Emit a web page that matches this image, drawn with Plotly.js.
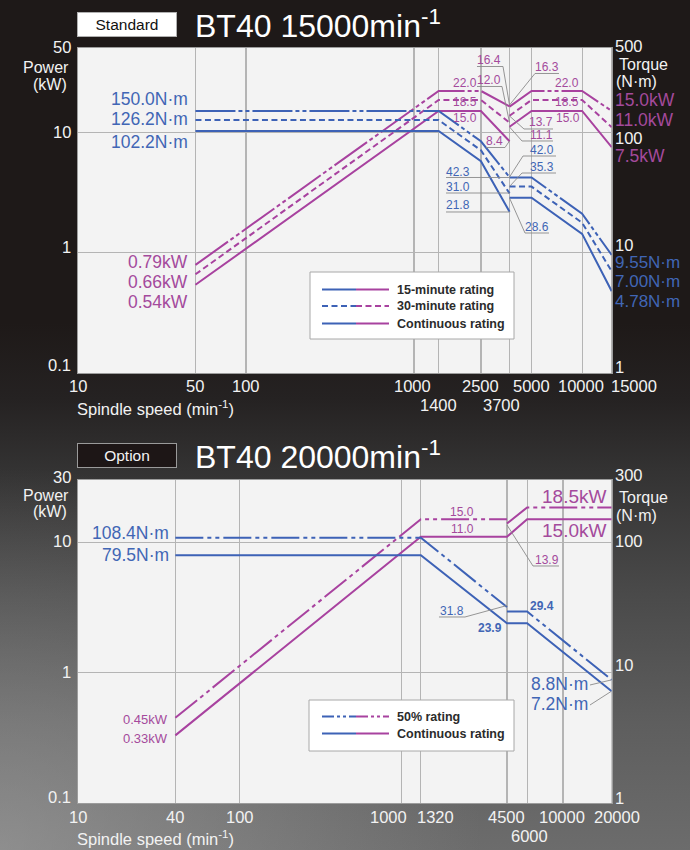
<!DOCTYPE html>
<html><head><meta charset="utf-8">
<script src="https://cdn.plot.ly/plotly-3.0.1.min.js"></script>
<style>
html,body{margin:0;padding:0;}
body{width:690px;height:850px;overflow:hidden;
background:
 radial-gradient(ellipse 70% 45% at 0% 100%, rgba(170,170,170,0.55), rgba(170,170,170,0) 100%),
 linear-gradient(to bottom, #1e1918 0%, #1e1918 38%, #252222 47%, #333232 55%, #4a4a4a 70%, #5e5e5e 85%, #6c6c6c 100%);}
#chart{width:690px;height:850px;}
</style></head><body><div id="chart"></div>
<script>
// ---------- DATA: Standard BT40 15000 min-1 ----------
const speedStd   = [50, 1400, 2500, 3700, null, 3700, 5000, 10000, 15000];
const power15    = [0.79, 22.0, 22.0, 16.4, null, 16.3, 22.0, 22.0, 15.0];
const power30    = [0.66, 18.5, 18.5, 12.0, null, 13.7, 18.5, 18.5, 11.0];
const powerCont  = [0.54, 15.0, 15.0, 8.4, null, 11.1, 15.0, 15.0, 7.5];
const torque15   = [150.0, 150.0, 84.0, 42.3, null, 42.0, 42.0, 21.0, 9.55];
const torque30   = [126.2, 126.2, 70.7, 31.0, null, 35.3, 35.3, 17.7, 7.00];
const torqueCont = [102.2, 102.2, 57.3, 21.8, null, 28.6, 28.6, 14.3, 4.78];

// ---------- DATA: Option BT40 20000 min-1 ----------
const speedOpt50    = [40, 1320, 4500, null, 4500, 6000, 20000];
const power50       = [0.45, 15.0, 15.0, null, 13.9, 18.5, 18.5];
const torque50      = [108.4, 108.4, 31.8, null, 29.4, 29.4, 8.8];
const speedOptCont  = [40, 1320, 4500, 6000, 20000];
const powerOptCont  = [0.33, 11.0, 11.0, 15.0, 15.0];
const torqueOptCont = [79.5, 79.5, 23.9, 23.9, 7.2];

// ---------- TICKS ----------
const stdXTicks  = [10, 50, 100, 1000, 2500, 5000, 10000, 15000];
const stdXTicks2 = [1400, 3700];
const stdGridX   = [50, 100, 1000, 1400, 2500, 3700, 5000, 10000];
const optXTicks  = [10, 40, 100, 1000, 1320, 4500, 10000, 20000];
const optXTicks2 = [6000];
const optGridX   = [40, 100, 1000, 1320, 4500, 6000, 10000];
const stdPowerTicks  = [0.1, 1, 10, 50];
const stdTorqueTicks = [1, 10, 100, 500];
const optPowerTicks  = [0.1, 1, 10, 30];
const optTorqueTicks = [1, 10, 100, 300];
const stdLegend = ['15-minute rating', '30-minute rating', 'Continuous rating'];
const optLegend = ['50% rating', 'Continuous rating'];

// ---------- STYLE ----------
const W = 690, H = 850;
const BLUE = '#3d62b6', MAG = '#a8429f', BLUET = '#4166b5', MAGT = '#a44a9c';
const WHITE = '#f2f2f2';
const FONT = 'Liberation Sans, Arial, Helvetica, sans-serif';
const DD1 = '40px,3px,4px,3px,4px,3px';
const DD2 = '28px,4px,4px,4px,4px,4px';
const DASH = '6px,3.5px';
const px = (x) => x / W, py = (y) => 1 - y / H;

function tr(x, y, xa, ya, color, dash) {
  return {x, y, xaxis: xa, yaxis: ya, mode: 'lines', connectgaps: false, hoverinfo: 'skip',
          line: {color, width: 2, dash}, showlegend: false};
}
const data = [
  tr(speedStd, torque15, 'x', 'y2', BLUE, DD1),
  tr(speedStd, torque30, 'x', 'y2', BLUE, DASH),
  tr(speedStd, torqueCont, 'x', 'y2', BLUE, 'solid'),
  tr(speedStd, power15, 'x', 'y', MAG, DD1),
  tr(speedStd, power30, 'x', 'y', MAG, DASH),
  tr(speedStd, powerCont, 'x', 'y', MAG, 'solid'),
  tr(speedOpt50, torque50, 'x2', 'y4', BLUE, DD2),
  tr(speedOptCont, torqueOptCont, 'x2', 'y4', BLUE, 'solid'),
  tr(speedOpt50, power50, 'x2', 'y3', MAG, DD2),
  tr(speedOptCont, powerOptCont, 'x2', 'y3', MAG, 'solid')
];

const ann = [];
function T(text, x, y, o) {
  o = o || {};
  ann.push({text, xref: 'paper', yref: 'paper', x: px(x), y: py(y), showarrow: false, borderpad: 0,
    xanchor: o.xa || 'center', yanchor: 'middle',
    font: {family: FONT, size: o.size || 12, color: o.color || WHITE, weight: o.weight || 400}});
}
// tick labels bound to axis scales
function tickX(axis, v, yPix, shift) {
  ann.push({text: String(v), xref: axis, x: Math.log10(v), yref: 'paper', y: py(yPix), xshift: shift || 0,
    showarrow: false, borderpad: 0, xanchor: 'center', yanchor: 'middle', font: {family: FONT, size: 16.5, color: WHITE}});
}
function tickY(axis, v, xPix, xa, shift) {
  ann.push({text: String(v), yref: axis, y: Math.log10(v), xref: 'paper', x: px(xPix), yshift: shift || 0,
    showarrow: false, borderpad: 0, xanchor: xa, yanchor: 'middle', font: {family: FONT, size: 16.5, color: WHITE}});
}
const stdXShift = {10: 0, 50: 0, 100: 0, 1000: -2, 2500: 0, 5000: 0, 10000: -1, 15000: 22};
stdXTicks.forEach(v => tickX('x', v, 386, stdXShift[v]));
const stdX2Shift = {1400: 0, 3700: -8};
stdXTicks2.forEach(v => tickX('x', v, 405, stdX2Shift[v]));
const optXShift = {10: 0, 40: 0, 100: 0, 1000: -13, 1320: 15, 4500: 0, 10000: -1, 20000: 5};
optXTicks.forEach(v => tickX('x2', v, 817, optXShift[v]));
optXTicks2.forEach(v => tickX('x2', v, 836, 2));
const stdPShift = {0.1: 8, 1: 6, 10: 0, 50: 1};
stdPowerTicks.forEach(v => tickY('y', v, 72, 'right', stdPShift[v]));
const stdTShift = {1: 6, 10: 8, 100: -6, 500: 2};
stdTorqueTicks.forEach(v => tickY('y2', v, 614, 'left', stdTShift[v]));
const optPShift = {0.1: 6, 1: 1, 10: 1, 30: 3};
optPowerTicks.forEach(v => tickY('y3', v, 72, 'right', optPShift[v]));
const optTShift = {1: 5, 10: 8, 100: 1, 300: 5};
optTorqueTicks.forEach(v => tickY('y4', v, 614, 'left', optTShift[v]));

// axis titles
T('Power', 70, 67, {xa: 'right', size: 16});
T('(kW)', 68, 84, {xa: 'right', size: 16});
T('Torque', 618, 64, {xa: 'left', size: 16});
T('(N·m)', 615, 81, {xa: 'left', size: 16});
T('Spindle speed (min<sup>-1</sup>)', 76, 408, {xa: 'left', size: 16.5});
T('Power', 70, 495, {xa: 'right', size: 16});
T('(kW)', 68, 512, {xa: 'right', size: 16});
T('Torque', 618, 497, {xa: 'left', size: 16});
T('(N·m)', 615, 515, {xa: 'left', size: 16});
T('Spindle speed (min<sup>-1</sup>)', 76, 838, {xa: 'left', size: 16.5});

// headers
ann.push({text: 'Standard', xref: 'paper', yref: 'paper', x: px(77), y: py(12), xanchor: 'left', yanchor: 'top',
  showarrow: false, width: 96, height: 21, bgcolor: '#ffffff', bordercolor: '#b0b0b0', borderwidth: 1,
  font: {family: FONT, size: 15.5, color: '#111'}});
T('BT40 15000min<sup>-1</sup>', 194, 24, {xa: 'left', size: 32, color: '#ffffff'});
ann.push({text: 'Option', xref: 'paper', yref: 'paper', x: px(77), y: py(443), xanchor: 'left', yanchor: 'top',
  showarrow: false, width: 96, height: 21, bgcolor: '#1d1616', bordercolor: '#9a9a9a', borderwidth: 1,
  font: {family: FONT, size: 15.5, color: '#f4f4f4'}});
T('BT40 20000min<sup>-1</sup>', 194, 455, {xa: 'left', size: 32, color: '#ffffff'});

// ---- value labels: standard ----
const BIG = 17.5;
T(torque15[0].toFixed(1) + 'N·m', 189, 99, {xa: 'right', size: BIG, color: BLUET});
T(torque30[0].toFixed(1) + 'N·m', 189, 119, {xa: 'right', size: BIG, color: BLUET});
T(torqueCont[0].toFixed(1) + 'N·m', 189, 142, {xa: 'right', size: BIG, color: BLUET});
T(power15[0].toFixed(2) + 'kW', 189, 262, {xa: 'right', size: BIG, color: MAGT});
T(power30[0].toFixed(2) + 'kW', 189, 282, {xa: 'right', size: BIG, color: MAGT});
T(powerCont[0].toFixed(2) + 'kW', 189, 302, {xa: 'right', size: BIG, color: MAGT});
T(power15[8].toFixed(1) + 'kW', 614, 100, {xa: 'left', size: BIG, color: MAGT});
T(power30[8].toFixed(1) + 'kW', 614, 120, {xa: 'left', size: BIG, color: MAGT});
T(powerCont[8].toFixed(1) + 'kW', 614, 156, {xa: 'left', size: BIG, color: MAGT});
T(torque15[8].toFixed(2) + 'N·m', 614, 262, {xa: 'left', size: 17, color: BLUET});
T(torque30[8].toFixed(2) + 'N·m', 614, 281.5, {xa: 'left', size: 17, color: BLUET});
T(torqueCont[8].toFixed(2) + 'N·m', 614, 301, {xa: 'left', size: 17, color: BLUET});

const SM = 12;
T('22.0', 465, 83, {size: SM, color: MAGT});
T('18.5', 465, 102, {size: SM, color: MAGT});
T('15.0', 465, 118, {size: SM, color: MAGT});
T('16.4', 489, 60, {size: SM, color: MAGT});
T('12.0', 489, 80, {size: SM, color: MAGT});
T('8.4', 494, 141, {size: SM, color: MAGT});
T('16.3', 547, 67, {size: SM, color: MAGT});
T('22.0', 567, 83, {size: SM, color: MAGT});
T('18.5', 567, 102, {size: SM, color: MAGT});
T('13.7', 541, 122, {size: SM, color: MAGT});
T('15.0', 568, 118, {size: SM, color: MAGT});
T('11.1', 541, 135, {size: SM, color: MAGT});
T('42.0', 542, 150, {size: SM, color: BLUET});
T('35.3', 542, 167, {size: SM, color: BLUET});
T('42.3', 458, 172, {size: SM, color: BLUET});
T('31.0', 458, 187, {size: SM, color: BLUET});
T('21.8', 458, 205, {size: SM, color: BLUET});
T('28.6', 537, 227, {size: SM, color: BLUET});

// ---- value labels: option ----
T(torque50[0].toFixed(1) + 'N·m', 170, 533, {xa: 'right', size: BIG, color: BLUET});
T(torqueOptCont[0].toFixed(1) + 'N·m', 170, 555, {xa: 'right', size: BIG, color: BLUET});
T(power50[0].toFixed(2) + 'kW', 169, 719, {xa: 'right', size: 13, color: MAGT});
T(powerOptCont[0].toFixed(2) + 'kW', 169, 738, {xa: 'right', size: 13, color: MAGT});
T('15.0', 462, 512, {size: SM, color: MAGT});
T('11.0', 462, 529, {size: SM, color: MAGT});
T('13.9', 547, 560, {size: SM, color: MAGT});
T(power50[6].toFixed(1) + 'kW', 607, 496, {xa: 'right', size: 19, color: MAGT});
T(powerOptCont[4].toFixed(1) + 'kW', 607, 530, {xa: 'right', size: 19, color: MAGT});
T('31.8', 452, 611, {size: SM, color: BLUET});
T('29.4', 542, 606, {size: SM, color: BLUET, weight: 700});
T('23.9', 490, 628, {size: SM, color: BLUET, weight: 700});
T(torque50[6].toFixed(1) + 'N·m', 589, 684, {xa: 'right', size: 17.5, color: BLUET});
T(torqueOptCont[4].toFixed(1) + 'N·m', 589, 704, {xa: 'right', size: 17.5, color: BLUET});

// ---------- shapes: leaders, legends ----------
const shapes = [];
function path(pts, color, width, dash) {
  let d = pts.map((p, i) => (i ? 'L' : 'M') + px(p[0]).toFixed(5) + ',' + py(p[1]).toFixed(5)).join(' ');
  shapes.push({type: 'path', xref: 'paper', yref: 'paper', path: d, line: {color, width, dash: dash || 'solid'}});
}
const LC = '#8a8a8a';
[
  [[477,66.5],[503,66.5],[509.5,105]],
  [[477,86.5],[502,86.5],[509.5,122.5]],
  [[486,147.5],[505,147.5],[509.5,141]],
  [[559,73.5],[535,73.5],[509.5,105]],
  [[553,129],[524,129],[509.5,116]],
  [[553,141],[522,141],[509.5,127]],
  [[446,177.5],[509.5,177.5]],
  [[446,193],[509.5,193]],
  [[446,212],[509.5,212]],
  [[556,156],[523,156],[509.5,177]],
  [[556,173],[522,173],[509.5,186.5]],
  [[549,233],[525,233],[509.5,198]],
  [[559,566],[533,566],[507,525]],
  [[439,617],[465,617],[507,605.5]],
  [[590,685],[611,680]],
  [[590,705],[611,691.5]]
].forEach(p => path(p, LC, 0.9));

function legendBox(x0, y0, x1, y1) {
  shapes.push({type: 'rect', xref: 'paper', yref: 'paper', x0: px(x0), x1: px(x1), y0: py(y1), y1: py(y0),
    fillcolor: '#ffffff', line: {color: '#a8a8a8', width: 1}});
}
legendBox(310, 272, 514, 339);
const stdDashes = [DD1, DASH, 'solid'];
const stdRows = [289.5, 306, 323.5];
stdLegend.forEach((name, i) => {
  path([[322, stdRows[i]], [356, stdRows[i]]], BLUE, 2, stdDashes[i]);
  path([[356, stdRows[i]], [389, stdRows[i]]], MAG, 2, stdDashes[i]);
  T(name, 396, stdRows[i], {xa: 'left', size: 12.5, color: '#2b2b2b', weight: 700});
});
legendBox(309, 700, 514, 751);
const optDashes = ['12px,3px,3px,3px,3px,3px', 'solid'];
const optRows = [716.5, 733.5];
optLegend.forEach((name, i) => {
  path([[322, optRows[i]], [356, optRows[i]]], BLUE, 2, optDashes[i]);
  path([[356, optRows[i]], [389, optRows[i]]], MAG, 2, optDashes[i]);
  T(name, 396, optRows[i], {xa: 'left', size: 12.5, color: '#2b2b2b', weight: 700});
});

// ---------- axes ----------
const GRID = '#b4b4b4', LINE = '#9c9c9c';
const xDom = [78 / W, 611.7 / W];
function xax(range, grid, anchor) {
  return {type: 'log', range, domain: xDom, anchor, tickvals: grid, showticklabels: false, ticks: '',
    showgrid: true, gridcolor: GRID, gridwidth: 1.2, showline: true, mirror: true, linecolor: LINE, linewidth: 1, zeroline: false, fixedrange: true};
}
function yax(range, dom, anchor) {
  return {type: 'log', range, domain: dom, anchor, tickvals: [1, 10], showticklabels: false, ticks: '',
    showgrid: true, gridcolor: GRID, gridwidth: 1.2, showline: true, mirror: true, linecolor: LINE, linewidth: 1, zeroline: false, fixedrange: true};
}
function yaxR(range, over, anchor) {
  return {type: 'log', range, overlaying: over, side: 'right', anchor, showgrid: false, showticklabels: false,
    ticks: '', showline: false, zeroline: false, fixedrange: true};
}
const layout = {
  width: W, height: H, margin: {l: 0, r: 0, t: 0, b: 0, pad: 0},
  paper_bgcolor: 'rgba(0,0,0,0)', plot_bgcolor: '#f3f3f3', showlegend: false,
  font: {family: FONT},
  xaxis: xax([1, Math.log10(15000)], stdGridX, 'y'),
  yaxis: yax([-1, Math.log10(50)], [1 - 373 / H, 1 - 48 / H], 'x'),
  yaxis2: yaxR([0, Math.log10(500)], 'y', 'x'),
  xaxis2: xax([1, Math.log10(20000)], optGridX, 'y3'),
  yaxis3: yax([-1, Math.log10(30)], [1 - 803 / H, 1 - 480 / H], 'x2'),
  yaxis4: yaxR([0, Math.log10(300)], 'y3', 'x2'),
  annotations: ann, shapes: shapes
};
Plotly.newPlot('chart', data, layout, {staticPlot: true, displayModeBar: false});
</script></body></html>
